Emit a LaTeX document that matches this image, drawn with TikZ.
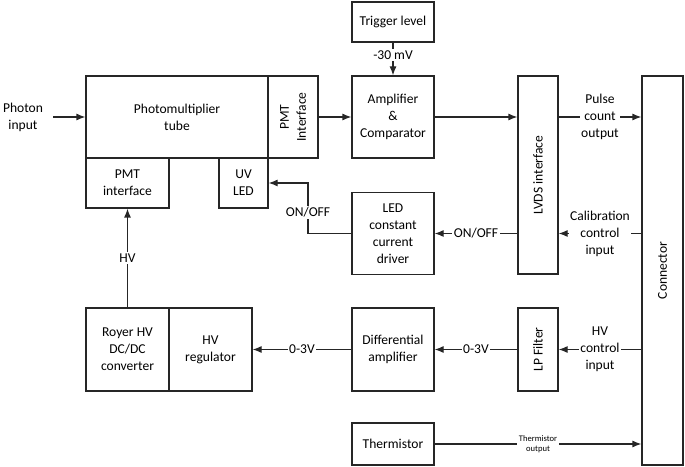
\documentclass[tikz,border=0pt]{standalone}
\usepackage{fontspec}
\setmainfont{Carlito}
\usetikzlibrary{arrows.meta}
\begin{document}
\begin{tikzpicture}[x=1bp,y=-1bp,
  every node/.style={font=\fontsize{13.6}{17}\selectfont},
  blk/.style={draw=black!85, line width=1.2bp, align=center, inner sep=1bp},
  lnk/.style={draw=black!85, line width=1.2bp, -{Latex[length=9bp,width=7bp]}},
  lbl/.style={fill=white, align=center, inner sep=1.5bp},
  sml/.style={fill=white, align=center, inner sep=1.5bp, font=\fontsize{8.6}{10.5}\selectfont}]
\useasboundingbox (0,0) rectangle (685,467);
\fill[white] (0,0) rectangle (685,467);

% blocks
\node[blk, minimum width=182bp, minimum height=82bp] (pmt) at (177,117) {};
\node[align=center] at (pmt.center) {Photomultiplier\\tube};
\node[blk, minimum width=50bp, minimum height=82bp] (pmtif) at (293,117) {};
\node[rotate=90, align=center] at (pmtif.center) {PMT\\Interface};
\node[blk, minimum width=83bp, minimum height=50bp] (pmtif2) at (127.5,183) {PMT\\interface};
\node[blk, minimum width=49bp, minimum height=50bp] (uvled) at (243.5,183) {UV\\LED};

\node[blk, minimum width=82bp, minimum height=40bp] (trig) at (393,22) {Trigger level};
\node[blk, minimum width=82bp, minimum height=82bp] (amp) at (393,117) {Amplifier\\\&\\Comparator};
\node[blk, minimum width=82bp, minimum height=82bp] (led) at (393,233.5) {LED\\constant\\current\\driver};

\node[blk, minimum width=40bp, minimum height=198bp] (lvds) at (538,175) {};
\node[rotate=90] at (lvds.center) {LVDS interface};
\node[blk, minimum width=41bp, minimum height=389bp] (conn) at (662.5,270.5) {};
\node[rotate=90] at (conn.center) {Connector};

\node[blk, minimum width=83bp, minimum height=83bp] (royer) at (127.5,349.5) {Royer HV\\DC/DC\\converter};
\node[blk, minimum width=83bp, minimum height=83bp] (hvreg) at (210.5,349.5) {HV\\regulator};
\node[blk, minimum width=82bp, minimum height=83bp] (diff) at (393,349.5) {Differential\\amplifier};
\node[blk, minimum width=40bp, minimum height=83bp] (lp) at (538,349.5) {};
\node[rotate=90] at (lp.center) {LP Filter};
\node[blk, minimum width=82bp, minimum height=42bp] (therm) at (393,444) {Thermistor};

% input text
\node[align=center] (photon) at (23,117) {Photon\\input};
\coordinate (pin) at (53,117);

% connectors
\draw[lnk] (pin) -- (pmt.west);
\draw[lnk] (pmtif.east) -- (amp.west);
\draw[lnk] (trig.south) -- node[lbl, pos=0.38] {-30 mV} (amp.north);
\draw[lnk] (amp.east) -- (amp.east -| lvds.west);
\draw[lnk] (amp.east -| lvds.east) -- node[lbl] {Pulse\\count\\output} (amp.east -| conn.west);
\draw[lnk] (led.east -| conn.west) -- node[lbl] {Calibration\\control\\input} (led.east -| lvds.east);
\draw[lnk] (led.east -| lvds.west) -- node[lbl] {ON/OFF} (led.east);
\coordinate (bend) at (308,233.5);
\draw[lnk] (led.west) -- (bend) -- node[lbl, pos=0.42] {ON/OFF} (bend |- uvled.east) -- (uvled.east);
\draw[lnk] (royer.north) -- node[lbl] {HV} (pmtif2.south);
\draw[lnk] (diff.west) -- node[lbl] {0-3V} (hvreg.east);
\draw[lnk] (lp.west) -- node[lbl] {0-3V} (diff.east);
\draw[lnk] (lp.east -| conn.west) -- node[lbl] {HV\\control\\input} (lp.east);
\draw[lnk] (therm.east) -- node[sml] {Thermistor\\output} (therm.east -| conn.west);
\end{tikzpicture}
\end{document}
